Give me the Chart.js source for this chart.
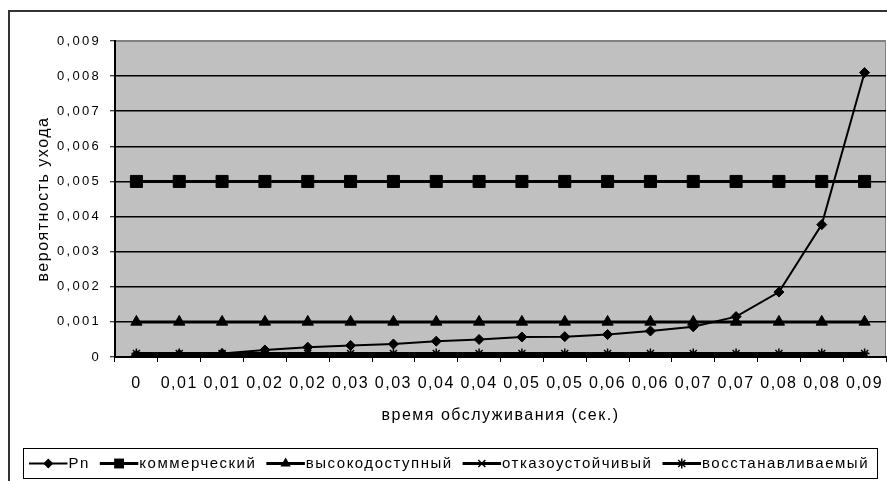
<!DOCTYPE html>
<html>
<head>
<meta charset="utf-8">
<script src="https://cdn.jsdelivr.net/npm/chart.js@4/dist/chart.umd.min.js"></script>
<style>
  html, body { margin: 0; padding: 0; background: #fff; }
  #wrap { width: 887px; height: 481px; position: relative; }
</style>
</head>
<body>
<div id="wrap"><canvas id="c"></canvas></div>
<script>
// ---- data ----
const categories = ['0','0,01','0,01','0,02','0,02','0,03','0,03','0,04','0,04','0,05','0,05','0,06','0,06','0,07','0,07','0,08','0,08','0,09'];
const seriesNames = ['Pn','коммерческий','высокодоступный','отказоустойчивый','восстанавливаемый'];
const pn = [0.00005,0.00007,0.0001,0.0002,0.00028,0.00033,0.00037,0.00045,0.0005,0.00057,0.00058,0.00064,0.00074,0.00086,0.00115,0.00185,0.00377,0.0081];
const commercial = [0.005,0.005,0.005,0.005,0.005,0.005,0.005,0.005,0.005,0.005,0.005,0.005,0.005,0.005,0.005,0.005,0.005,0.005];
const highAvail = [0.001,0.001,0.001,0.001,0.001,0.001,0.001,0.001,0.001,0.001,0.001,0.001,0.001,0.001,0.001,0.001,0.001,0.001];
const faultTolerant = [0.00003,0.00003,0.00003,0.00003,0.00003,0.00003,0.00003,0.00003,0.00003,0.00003,0.00003,0.00003,0.00003,0.00003,0.00003,0.00003,0.00003,0.00003];
const recoverable = [0.0001,0.0001,0.0001,0.0001,0.0001,0.0001,0.0001,0.0001,0.0001,0.0001,0.0001,0.0001,0.0001,0.0001,0.0001,0.0001,0.0001,0.0001];
const yTicks = { min: 0, max: 0.009, step: 0.001 };
const xTitle = 'время обслуживания (сек.)';
const yTitle = 'вероятность ухода';

// ---- letter spacing emulation for the stretched look ----
(function(){
  const P = CanvasRenderingContext2D.prototype;
  const sp = (ctx) => {
    const m = /(\d+(?:\.\d+)?)px/.exec(ctx.font);
    const s = m ? parseFloat(m[1]) : 12;
    try { ctx.letterSpacing = s <= 13 ? '2.3px' : '1.5px'; } catch(e) {}
  };
  const f = P.fillText, mt = P.measureText;
  P.fillText = function(){ sp(this); return f.apply(this, arguments); };
  P.measureText = function(){ sp(this); return mt.apply(this, arguments); };
})();

const styles = [
  { ps: 'rectRot', r: 5, lw: 2 },
  { ps: 'rect', r: 8.5, lw: 3 },
  { ps: 'triangle', r: 6.5, lw: 3 },
  { ps: 'crossRot', r: 5, lw: 3 },
  { ps: 'star', r: 5, lw: 3 }
];
const values = [pn, commercial, highAvail, faultTolerant, recoverable];

function drawMarker(ctx, style, r, x, y) {
  ctx.save();
  ctx.fillStyle = '#000'; ctx.strokeStyle = '#000'; ctx.lineWidth = 1.5;
  ctx.beginPath();
  if (style === 'rectRot') {
    ctx.moveTo(x - r, y); ctx.lineTo(x, y - r); ctx.lineTo(x + r, y); ctx.lineTo(x, y + r); ctx.closePath(); ctx.fill();
  } else if (style === 'rect') {
    const s = r * Math.SQRT1_2; ctx.rect(x - s, y - s, 2 * s, 2 * s); ctx.fill();
  } else if (style === 'triangle') {
    ctx.moveTo(x, y - r); ctx.lineTo(x + r * 0.866, y + r * 0.5); ctx.lineTo(x - r * 0.866, y + r * 0.5); ctx.closePath(); ctx.fill();
  } else if (style === 'crossRot') {
    const s = r * 0.707; ctx.moveTo(x - s, y - s); ctx.lineTo(x + s, y + s); ctx.moveTo(x + s, y - s); ctx.lineTo(x - s, y + s); ctx.stroke();
  } else if (style === 'star') {
    const s = r * 0.707; ctx.moveTo(x - s, y - s); ctx.lineTo(x + s, y + s); ctx.moveTo(x + s, y - s); ctx.lineTo(x - s, y + s);
    ctx.moveTo(x, y - r); ctx.lineTo(x, y + r); ctx.stroke();
  }
  ctx.restore();
}

const decorPlugin = {
  id: 'decor',
  beforeDraw(chart) {
    const { ctx, chartArea: a } = chart;
    ctx.save();
    ctx.fillStyle = '#fff';
    ctx.fillRect(0, 0, chart.width, chart.height);
    ctx.fillStyle = '#C0C0C0';
    ctx.fillRect(a.left, a.top, a.right - a.left, a.bottom - a.top);
    ctx.strokeStyle = '#808080';
    ctx.lineWidth = 1;
    ctx.strokeRect(a.left + 0.5, a.top + 0.5, a.right - a.left - 1, a.bottom - a.top);
    // outer chart border
    ctx.strokeStyle = '#333';
    ctx.lineWidth = 2;
    ctx.strokeRect(9, 11, chart.width + 10, chart.height + 10);
    ctx.restore();
  },
  afterDraw(chart) {
    const lg = chart.legend;
    if (!lg || !lg.legendHitBoxes || !lg.legendHitBoxes.length) return;
    const { ctx } = chart;
    const hb = lg.legendHitBoxes;
    const boxW = lg.options.labels.boxWidth;
    const fs = lg.options.labels.font.size;
    ctx.save();
    hb.forEach((h, i) => {
      const y = h.top + h.height / 2;
      const x0 = h.left, x1 = h.left + boxW + fs / 2 - 1;
      ctx.strokeStyle = '#000';
      ctx.lineWidth = styles[i].lw;
      ctx.beginPath(); ctx.moveTo(x0, y); ctx.lineTo(x1, y); ctx.stroke();
      const mr = styles[i].ps === 'rect' ? 7 : styles[i].ps === 'triangle' ? 6 : 5;
      drawMarker(ctx, styles[i].ps, mr, (x0 + x1) / 2, y);
    });
    const last = hb[hb.length - 1];
    const left = hb[0].left - 6, right = last.left + last.width + 8;
    const top = hb[0].top - 8, bottom = hb[0].top + hb[0].height + 7;
    ctx.strokeStyle = '#000';
    ctx.lineWidth = 1;
    ctx.strokeRect(Math.round(left) + 0.5, Math.round(top) + 0.5, Math.round(right - left), Math.round(bottom - top));
    ctx.restore();
  }
};

const datasets = seriesNames.map((name, i) => ({
  label: name,
  data: values[i],
  borderColor: '#000',
  backgroundColor: '#000',
  borderWidth: styles[i].lw,
  pointStyle: styles[i].ps,
  pointRadius: styles[i].r,
  pointHoverRadius: styles[i].r,
  pointBorderWidth: styles[i].ps === 'crossRot' || styles[i].ps === 'star' ? 1.5 : 1,
  pointBorderColor: '#000',
  pointBackgroundColor: '#000',
  tension: 0,
  fill: false
}));

Chart.defaults.color = '#000';
Chart.defaults.font.family = '"Liberation Sans", Arial, sans-serif';

new Chart(document.getElementById('c'), {
  type: 'line',
  data: { labels: categories, datasets },
  plugins: [decorPlugin],
  options: {
    responsive: true,
    maintainAspectRatio: false,
    animation: false,
    events: [],
    layout: { autoPadding: false, padding: { left: 12, top: 41, right: 1, bottom: 0 } },
    plugins: {
      tooltip: { enabled: false },
      legend: {
        position: 'bottom',
        labels: {
          boxWidth: 32,
          padding: 10,
          font: { size: 15 },
          color: '#000',
          generateLabels(chart) {
            const items = Chart.defaults.plugins.legend.labels.generateLabels(chart);
            return items.map(it => Object.assign(it, {
              fillStyle: 'rgba(0,0,0,0)', strokeStyle: 'rgba(0,0,0,0)', lineWidth: 0
            }));
          }
        }
      }
    },
    scales: {
      x: {
        type: 'category',
        offset: true,
        afterFit(s) { s.height = 89; s.paddingRight = 0; s.paddingLeft = 0; },
        grid: {
          offset: true,
          drawOnChartArea: false,
          drawTicks: true,
          tickLength: 5,
          tickColor: '#000',
          tickWidth: 1
        },
        border: { display: true, color: '#000', width: 2 },
        ticks: { font: { size: 16 }, padding: 12, maxRotation: 0, autoSkip: false, color: '#000' },
        title: { display: true, text: xTitle, font: { size: 16 }, padding: { top: 0, bottom: 21 }, color: '#000' }
      },
      y: {
        min: yTicks.min,
        max: yTicks.max,
        afterFit(s) { s.width = 103; },
        grid: {
          color: (c) => (c.tick && c.tick.value >= 0.0089) ? '#808080' : '#000',
          lineWidth: 1.5,
          drawTicks: true,
          tickLength: 5,
          tickColor: '#000',
          tickWidth: 1
        },
        border: { display: true, color: '#000', width: 2 },
        ticks: {
          stepSize: yTicks.step,
          font: { size: 13 },
          padding: 9,
          color: '#000',
          callback: (v) => Math.abs(v) < 1e-12 ? '0' : Number(v).toFixed(3).replace('.', ',')
        },
        title: { display: true, text: yTitle, font: { size: 16 }, padding: { top: 22, bottom: 0 }, color: '#000' }
      }
    }
  }
});
</script>
</body>
</html>
